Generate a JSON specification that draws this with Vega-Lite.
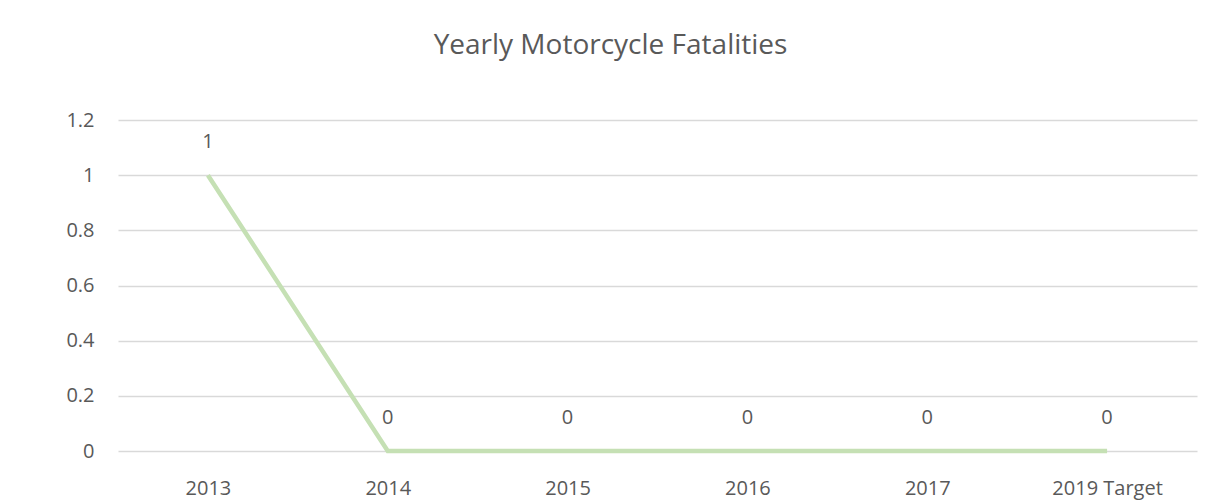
{
  "$schema": "https://vega.github.io/schema/vega-lite/v6.json",
  "width": 1079,
  "height": 331,
  "autosize": {"type": "none"},
  "padding": {"left": 118, "top": 120, "right": 9, "bottom": 52},
  "background": "white",
  "title": {
    "text": "Yearly Motorcycle Fatalities",
    "font": "Open Sans",
    "fontSize": 28,
    "fontWeight": "normal",
    "color": "#595959",
    "anchor": "middle",
    "offset": 36,
    "dx": -47,
    "baseline": "middle"
  },
  "config": {
    "view": {"stroke": null},
    "font": "Open Sans"
  },
  "data": {
    "values": [
      {"year": "2013", "fatalities": 1},
      {"year": "2014", "fatalities": 0},
      {"year": "2015", "fatalities": 0},
      {"year": "2016", "fatalities": 0},
      {"year": "2017", "fatalities": 0},
      {"year": "2019 Target", "fatalities": 0}
    ]
  },
  "encoding": {
    "x": {
      "field": "year",
      "type": "ordinal",
      "sort": null,
      "scale": {"paddingInner": 0, "paddingOuter": 0.5},
      "axis": {
        "title": null,
        "labelAngle": 0,
        "domain": false,
        "ticks": false,
        "grid": false,
        "labelFont": "Open Sans",
        "labelFontSize": 20,
        "labelColor": "#595959",
        "labelPadding": 37,
        "labelBaseline": "middle"
      }
    },
    "y": {
      "field": "fatalities",
      "type": "quantitative",
      "scale": {"domain": [0, 1.2]},
      "axis": {
        "title": null,
        "values": [0, 0.2, 0.4, 0.6, 0.8, 1, 1.2],
        "format": ".1~f",
        "domain": false,
        "ticks": false,
        "gridColor": "#d9d9d9",
        "gridWidth": 1.5,
        "labelFont": "Open Sans",
        "labelFontSize": 20,
        "labelColor": "#595959",
        "labelPadding": 24
      }
    }
  },
  "layer": [
    {
      "mark": {"type": "line", "color": "#c5e0b4", "strokeWidth": 4.5}
    },
    {
      "mark": {
        "type": "text",
        "dy": -33,
        "font": "Open Sans",
        "fontSize": 20,
        "color": "#595959",
        "baseline": "middle"
      },
      "encoding": {"text": {"field": "fatalities", "type": "quantitative"}}
    }
  ]
}
